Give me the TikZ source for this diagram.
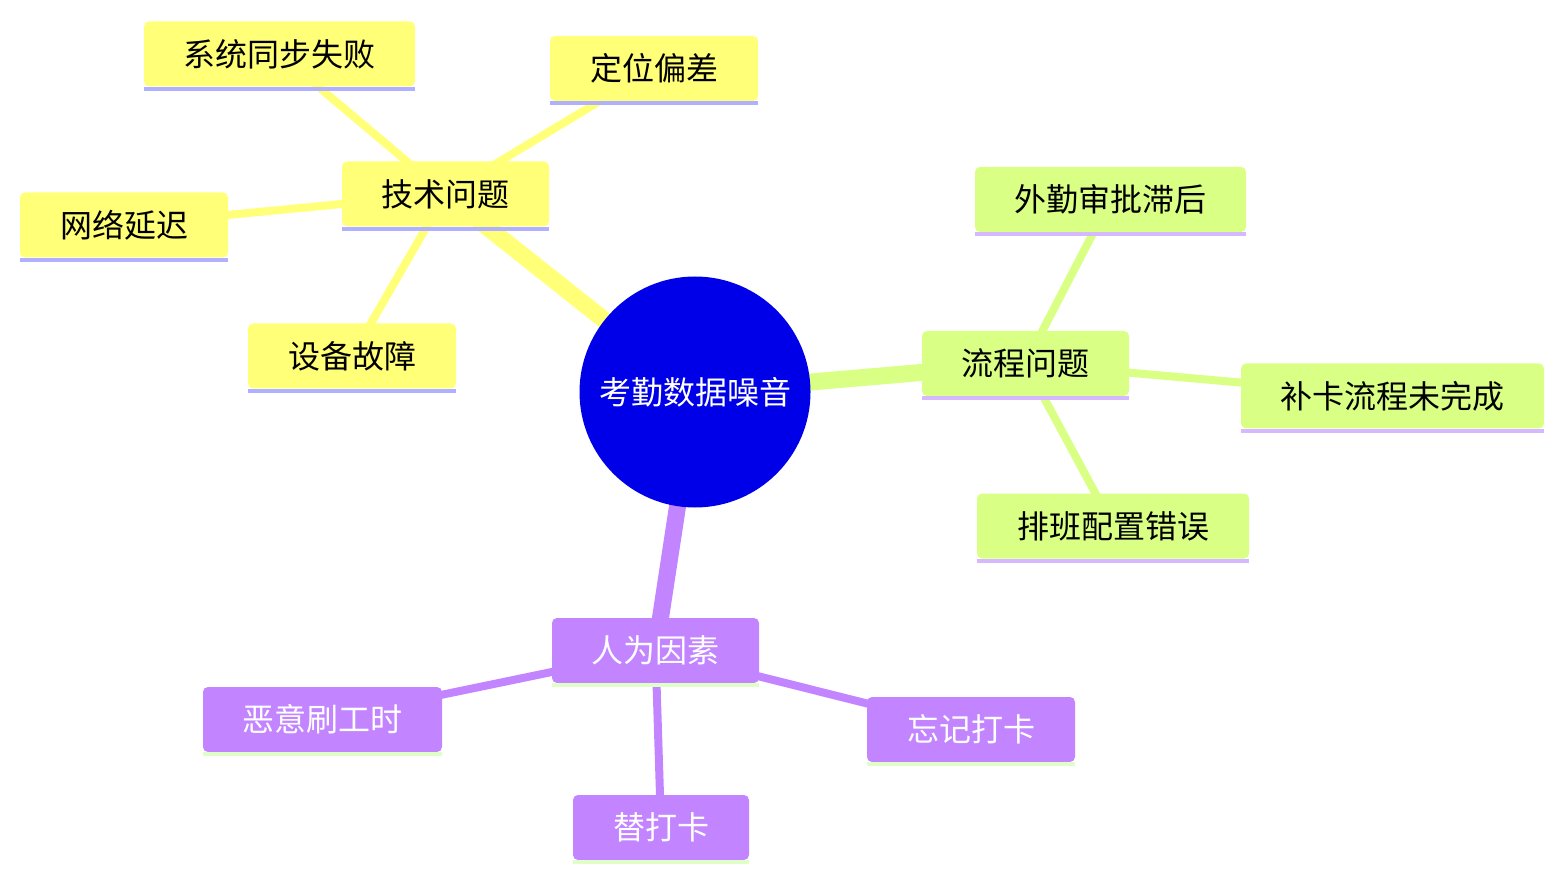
\documentclass[tikz,border=0pt]{standalone}
\usepackage{fontspec}
\newfontfamily\cjk{Noto Sans CJK SC}
\usetikzlibrary{calc,backgrounds}
\definecolor{rootc}{HTML}{0000E8}
\definecolor{yel}{HTML}{FFFF78}
\definecolor{lim}{HTML}{D9FF85}
\definecolor{pur}{HTML}{C285FF}
\definecolor{ulyel}{HTML}{B0B0FF}
\definecolor{ullim}{HTML}{D6B8FF}
\definecolor{ulpur}{HTML}{E0FFC8}
\newcommand\mmnode[6]{%
  \node[box,fill=#2,text=#4,minimum width=#5pt] (#1) at #6 {#3};
  \fill[#2!0!#2] (#1.south west) ++(0,0) coordinate (#1-a);
}
\begin{document}
\begin{tikzpicture}[x={(1pt,0pt)},y={(0pt,-1pt)},
  lbl/.style={font=\cjk\fontsize{32}{32}\selectfont},
  box/.style={lbl,rectangle,rounded corners=5pt,inner sep=0pt,minimum height=65pt},
  rootnode/.style={lbl,circle,fill=rootc,text=white,inner sep=0pt,minimum size=231pt},
  eone/.style={line width=17pt},
  etwo/.style={line width=8pt},
  ul/.style={line width=0pt}
]
\useasboundingbox (0,0) rectangle (1564,882);

\node[rootnode] (root) at (695,392) {考勤数据噪音};

% technical
\node[box,fill=yel,text=black,minimum width=207pt] (tech) at (445.5,194) {技术问题};
\node[box,fill=yel,text=black,minimum width=271pt] (sys) at (279.5,54) {系统同步失败};
\node[box,fill=yel,text=black,minimum width=208pt] (loc) at (654,68.5) {定位偏差};
\node[box,fill=yel,text=black,minimum width=208pt] (net) at (124,225) {网络延迟};
\node[box,fill=yel,text=black,minimum width=208pt] (dev) at (352,356) {设备故障};
\foreach \n in {tech,sys,loc,net,dev}
  \fill[ulyel] (\n.south west) rectangle ($(\n.south east)+(0,4)$);

% process
\node[box,fill=lim,text=black,minimum width=207pt] (flow) at (1025.5,363.5) {流程问题};
\node[box,fill=lim,text=black,minimum width=271pt] (out) at (1110.5,199.5) {外勤审批滞后};
\node[box,fill=lim,text=black,minimum width=303pt] (fix) at (1392.5,396) {补卡流程未完成};
\node[box,fill=lim,text=black,minimum width=272pt] (sched) at (1113,526) {排班配置错误};
\foreach \n in {flow,out,fix,sched}
  \fill[ullim] (\n.south west) rectangle ($(\n.south east)+(0,4)$);

% human
\node[box,fill=pur,text=white,minimum width=207pt] (human) at (655.5,650.5) {人为因素};
\node[box,fill=pur,text=white,minimum width=239pt] (mal) at (322.5,719.5) {恶意刷工时};
\node[box,fill=pur,text=white,minimum width=208pt] (forget) at (971,729.5) {忘记打卡};
\node[box,fill=pur,text=white,minimum width=176pt] (sub) at (661,827.5) {替打卡};
\foreach \n in {human,mal,forget,sub}
  \fill[ulpur] (\n.south west) rectangle ($(\n.south east)+(0,4)$);

\begin{scope}[on background layer]
  \draw[eone,yel] (root.center) -- (tech.center);
  \draw[eone,lim] (root.center) -- (flow.center);
  \draw[eone,pur] (root.center) -- (human.center);
  \draw[etwo,yel] (tech.center) -- (sys.center);
  \draw[etwo,yel] (tech.center) -- (loc.center);
  \draw[etwo,yel] (tech.center) -- (net.center);
  \draw[etwo,yel] (tech.center) -- (dev.center);
  \draw[etwo,lim] (flow.center) -- (out.center);
  \draw[etwo,lim] (flow.center) -- (fix.center);
  \draw[etwo,lim] (flow.center) -- (sched.center);
  \draw[etwo,pur] (human.center) -- (mal.center);
  \draw[etwo,pur] (human.center) -- (forget.center);
  \draw[etwo,pur] (human.center) -- (sub.center);
\end{scope}
\end{tikzpicture}
\end{document}
